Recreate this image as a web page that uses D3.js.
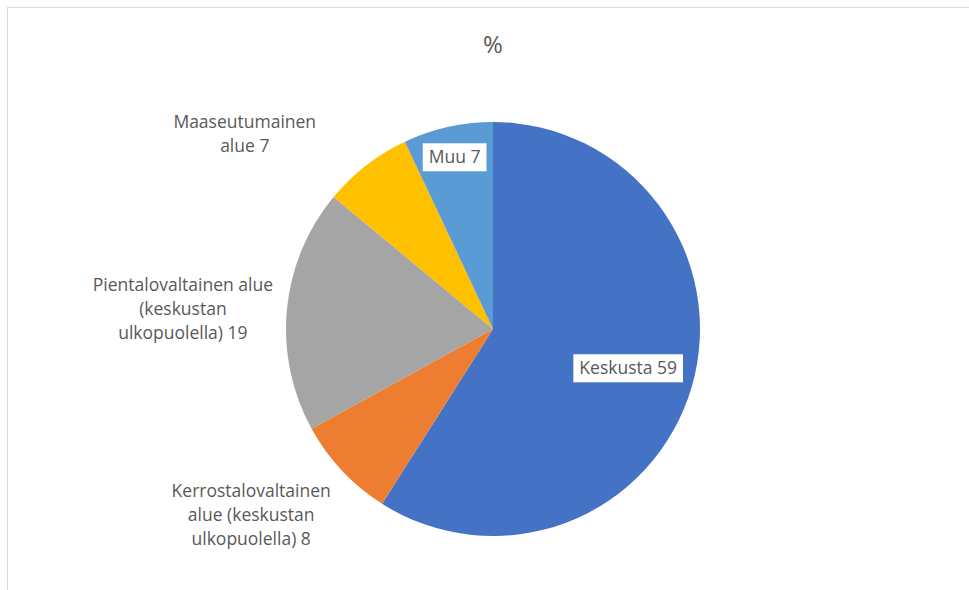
<!DOCTYPE html>
<html>
<head>
<meta charset="utf-8">
<script src="https://cdn.jsdelivr.net/npm/d3@7"></script>
<style>
  html, body { margin: 0; padding: 0; background: #ffffff; }
  svg { display: block; }
  text { font-family: "Open Sans", "Noto Sans", sans-serif; }
</style>
</head>
<body>
<svg id="chart" width="969" height="590"></svg>
<script>
// ---- data ----
const categories = [
  "Keskusta",
  "Kerrostalovaltainen alue (keskustan ulkopuolella)",
  "Pientalovaltainen alue (keskustan ulkopuolella)",
  "Maaseutumainen alue",
  "Muu"
];
const values = [59, 8, 19, 7, 7];
const labelLines = [
  ["Keskusta 59"],
  ["Kerrostalovaltainen", "alue (keskustan", "ulkopuolella) 8"],
  ["Pientalovaltainen alue", "(keskustan", "ulkopuolella) 19"],
  ["Maaseutumainen", "alue 7"],
  ["Muu 7"]
];
const colors = ["#4472C4", "#ED7D31", "#A5A5A5", "#FFC000", "#5B9BD5"];
const chartTitle = "%";

// ---- layout ----
const W = 969, H = 590;
const cx = 493, cy = 329, R = 207;
// label placement: radius factor along slice mid-angle, extra offset, boxed or not
const labelLayout = [
  { r: 0.68, dx: 0, dy: 0, boxed: true },
  { r: 1.47, dx: -20, dy: -22, boxed: false },
  { r: 1.50, dx: -1, dy: 9, boxed: false },
  { r: 1.20, dx: -96, dy: 1, boxed: false },
  { r: 0.85, dx: 0, dy: 0, boxed: true }
];

const svg = d3.select("#chart");

// chart area border (top & left visible)
svg.append("rect")
  .attr("x", 7.5).attr("y", 7.5)
  .attr("width", W + 20).attr("height", H + 20)
  .attr("fill", "#ffffff")
  .attr("stroke", "#d9d9d9").attr("stroke-width", 1);

svg.append("text")
  .attr("x", cx).attr("y", 53)
  .attr("text-anchor", "middle")
  .attr("font-size", 24)
  .attr("fill", "#595959")
  .text(chartTitle);

const data = categories.map((c, i) => ({ cat: c, value: values[i], i }));
const pie = d3.pie().value(d => d.value).sort(null);
const arcs = pie(data);
const arc = d3.arc().innerRadius(0).outerRadius(R);
const color = d3.scaleOrdinal().domain(categories).range(colors);

const g = svg.append("g").attr("transform", `translate(${cx},${cy})`);
g.selectAll("path.slice")
  .data(arcs)
  .join("path")
  .attr("class", "slice")
  .attr("d", arc)
  .attr("fill", d => color(d.data.cat));

const fontSize = 17.5, lineH = 24;
arcs.forEach((a, i) => {
  const L = labelLayout[i];
  const mid = (a.startAngle + a.endAngle) / 2;
  const x = Math.sin(mid) * R * L.r + L.dx;
  const y = -Math.cos(mid) * R * L.r + L.dy;
  const lines = labelLines[i];
  const lg = g.append("g").attr("transform", `translate(${x},${y})`);
  const t = lg.append("text")
    .attr("text-anchor", "middle")
    .attr("font-size", fontSize)
    .attr("fill", "#595959");
  const y0 = -(lines.length - 1) * lineH / 2;
  lines.forEach((ln, k) => {
    t.append("tspan")
      .attr("x", 0)
      .attr("y", y0 + k * lineH)
      .attr("dy", "0.35em")
      .text(ln);
  });
  if (L.boxed) {
    const bb = t.node().getBBox();
    lg.insert("rect", "text")
      .attr("x", bb.x - 6).attr("y", -14)
      .attr("width", bb.width + 12).attr("height", 28)
      .attr("fill", "#ffffff");
  }
});
</script>
</body>
</html>
